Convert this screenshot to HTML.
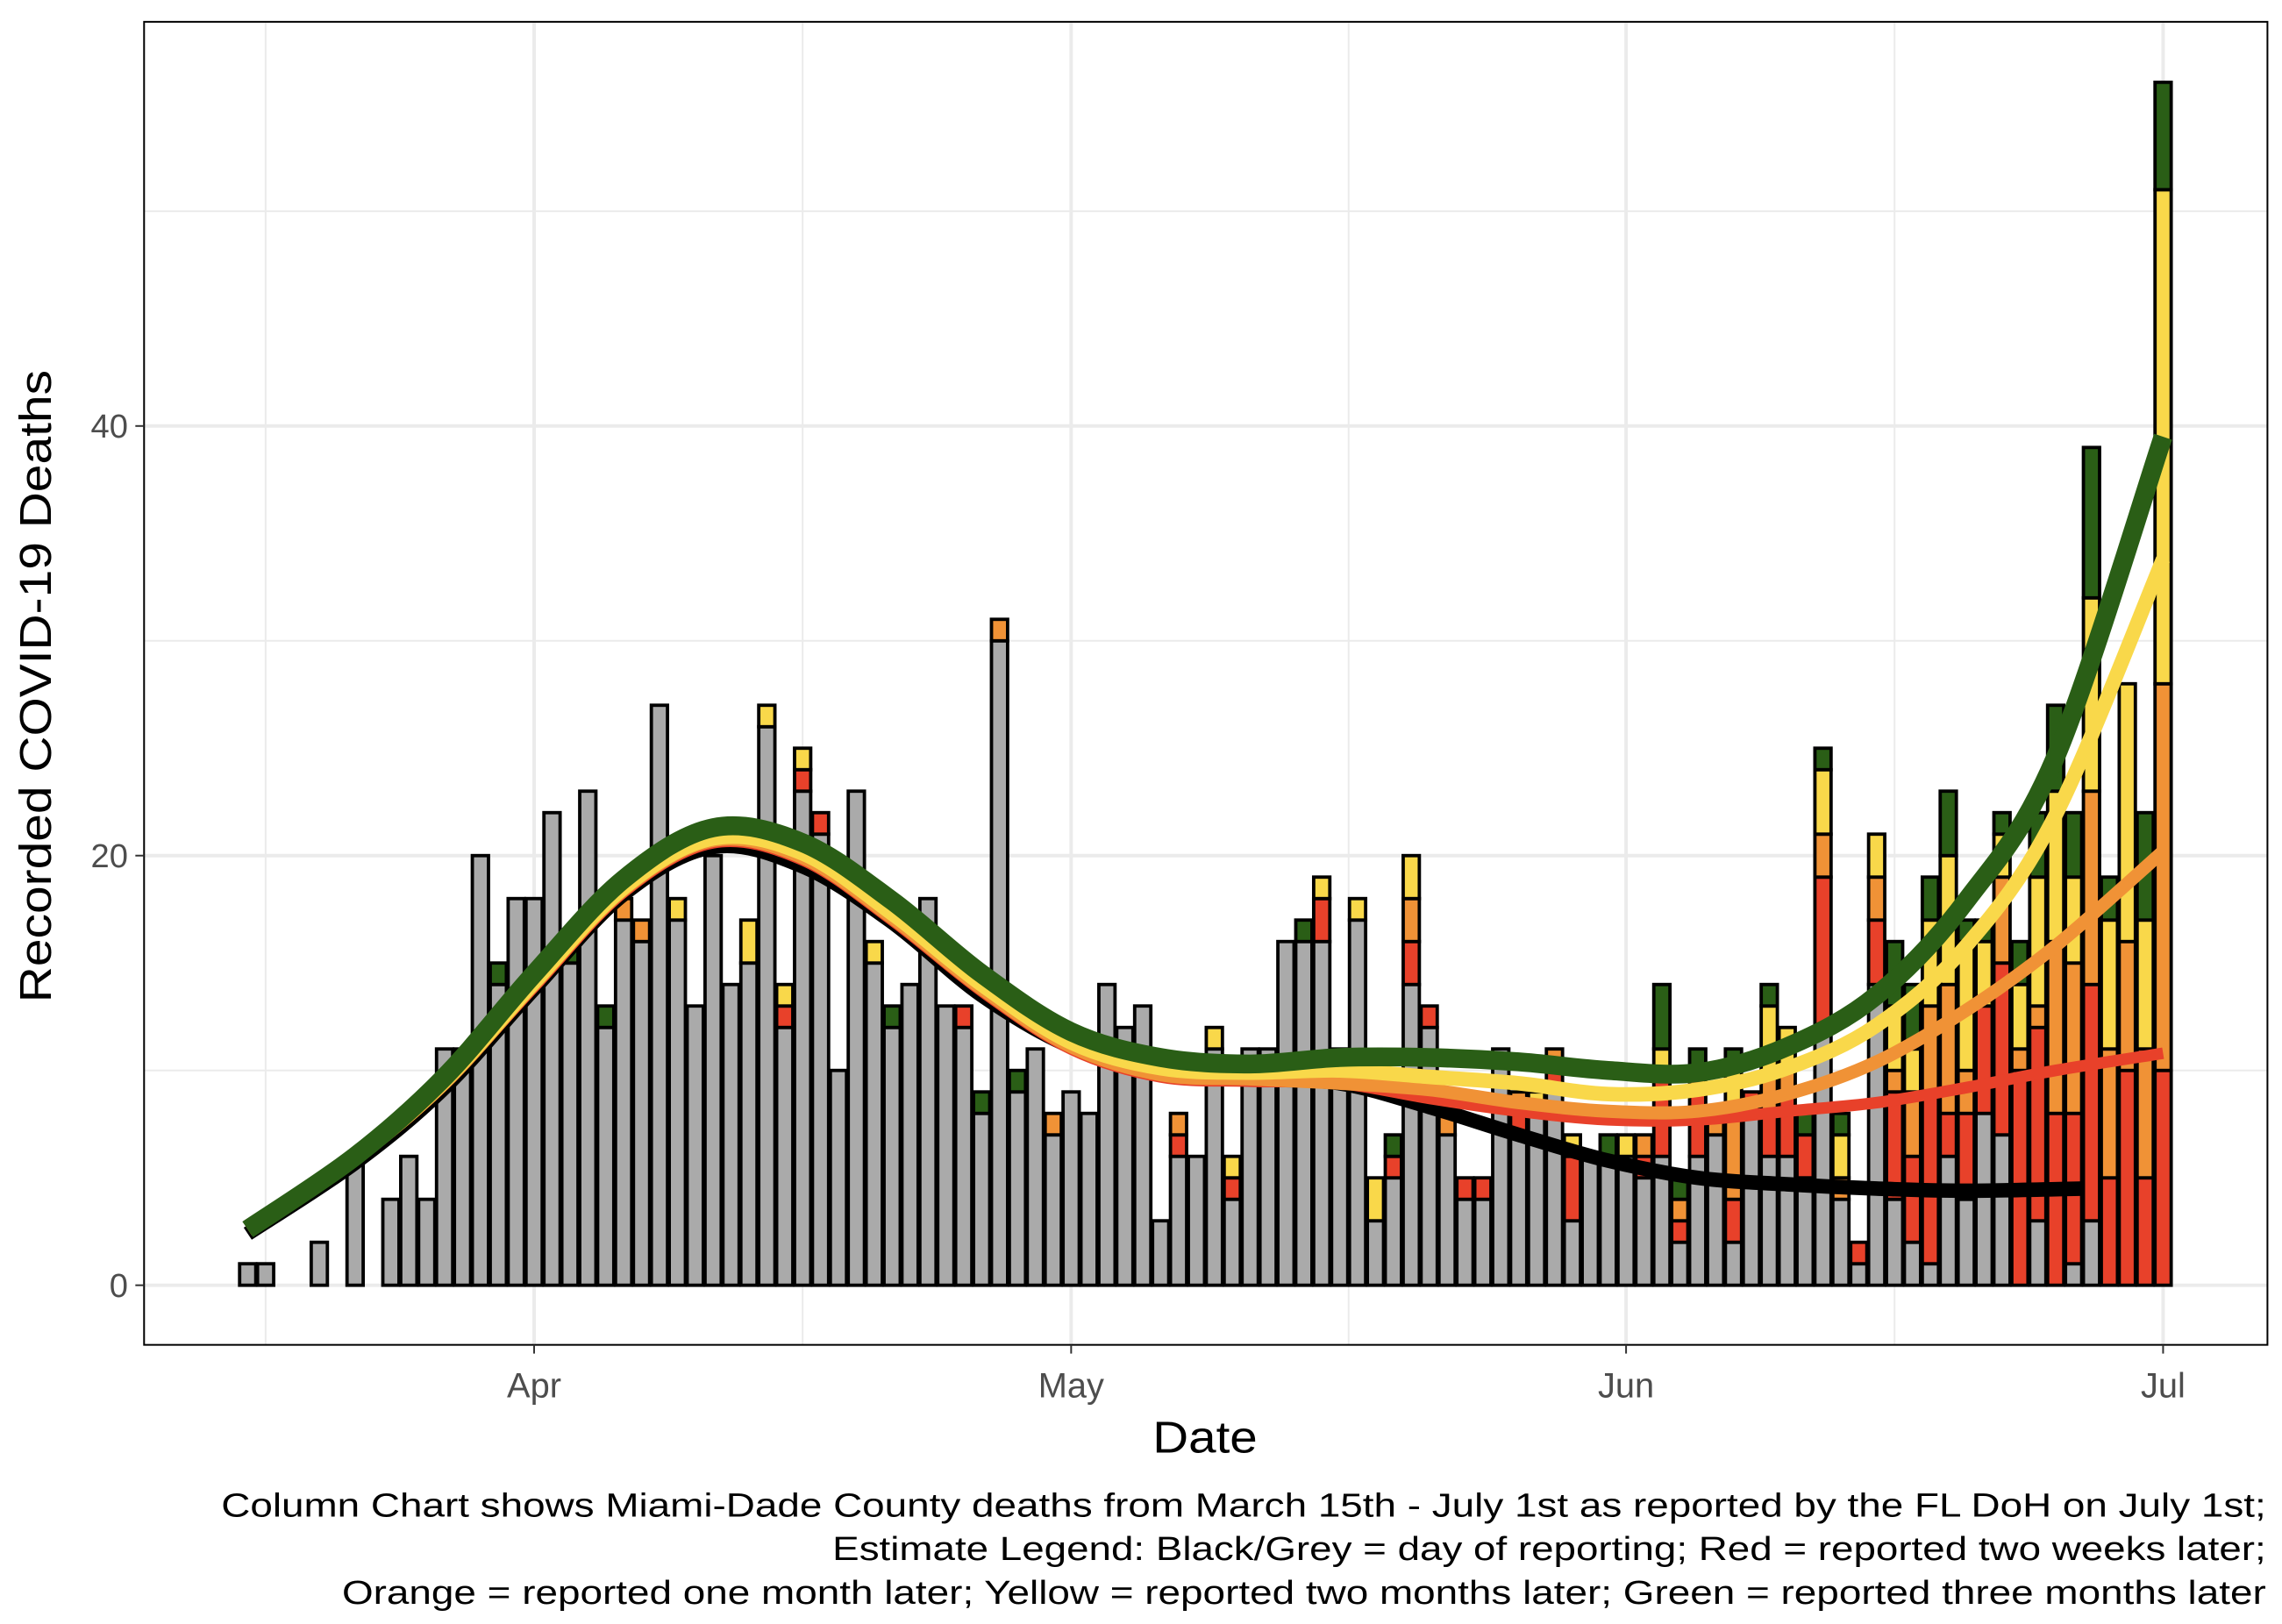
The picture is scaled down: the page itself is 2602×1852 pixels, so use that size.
<!DOCTYPE html>
<html><head><meta charset="utf-8">
<style>
html,body{margin:0;padding:0;background:#fff;}
svg{display:block;}
text{font-family:"Liberation Sans",Arial,sans-serif;}
</style></head>
<body>
<svg id="chart" width="2602" height="1852" viewBox="0 0 1568 1117" preserveAspectRatio="none" xmlns="http://www.w3.org/2000/svg">
  <rect x="0" y="0" width="1568" height="1117" fill="#fff"/>
  <g id="grid"></g>
  <g id="bars"></g>
  <g id="lines"></g>
  <rect x="99" y="15" width="1459" height="910" fill="none" stroke="#000" stroke-width="1.2"/>
  <g id="axes"></g>
  <text x="828" y="999" font-size="31" text-anchor="middle" textLength="72" lengthAdjust="spacingAndGlyphs" fill="#000">Date</text>
  <text transform="translate(35,472) rotate(-90)" font-size="31" text-anchor="middle" textLength="435" lengthAdjust="spacingAndGlyphs" fill="#000">Recorded COVID-19 Deaths</text>
  <g font-size="23" fill="#000">
    <text x="152" y="1043" textLength="1405" lengthAdjust="spacingAndGlyphs">Column Chart shows Miami-Dade County deaths from March 15th - July 1st as reported by the FL DoH on July 1st;</text>
    <text x="572" y="1073" textLength="985" lengthAdjust="spacingAndGlyphs">Estimate Legend: Black/Grey = day of reporting; Red = reported two weeks later;</text>
    <text x="235" y="1103" textLength="1322" lengthAdjust="spacingAndGlyphs">Orange = reported one month later; Yellow = reported two months later; Green = reported three months later</text>
  </g>
</svg>
<script>
// day offsets from April 1 (first bar = March 16)
const startDay = -16;
const gray   = [1,1,0,0,2,0,6,0,4,6,4,11,11,20,14,18,18,22,15,23,12,17,16,27,17,13,20,14,15,26,12,23,21,10,23,15,12,14,18,13,12,8,30,9,11,7,9,8,14,12,13,3,6,6,11,4,11,11,16,16,16,11,17,3,5,14,12,7,4,4,11,7,8,9,3,6,6,6,5,6,2,6,7,2,8,6,6,5,12,4,1,14,4,2,1,6,4,8,7,0,3,0,1,3,0,0,0,0];
const red    = [0,0,0,0,0,0,0,0,0,0,0,0,0,0,0,0,0,0,0,0,0,0,0,0,0,0,0,0,0,0,1,1,1,0,0,0,0,0,0,0,1,0,0,0,0,0,0,0,0,0,0,0,1,0,0,1,0,0,0,0,2,0,0,0,1,2,1,0,1,1,0,1,0,1,3,0,0,0,1,4,1,3,0,2,1,2,3,2,7,0,1,3,5,4,8,2,4,5,8,10,9,8,7,11,5,10,5,10];
const orange = [0,0,0,0,0,0,0,0,0,0,0,0,0,0,0,0,0,0,0,0,0,1,1,0,0,0,0,0,0,0,0,0,0,0,0,0,0,0,0,0,0,0,1,0,0,1,0,0,0,0,0,0,1,0,0,0,0,0,0,0,0,0,0,0,0,2,0,1,0,0,0,1,0,1,0,0,0,0,1,0,1,1,1,4,0,2,1,0,2,1,0,2,1,3,4,6,2,0,4,1,1,8,7,9,6,6,6,18];
const yellow = [0,0,0,0,0,0,0,0,0,0,0,0,0,0,0,0,0,0,0,0,0,0,0,0,1,0,0,0,2,1,1,1,0,0,0,1,0,0,0,0,0,0,0,0,0,0,0,0,0,0,0,0,0,0,1,1,0,0,0,0,1,0,1,2,0,2,0,0,0,0,0,0,1,0,1,0,0,1,0,1,0,0,0,2,0,3,2,0,3,2,0,2,3,2,4,6,6,3,2,3,6,7,4,9,6,12,6,23];
const green  = [0,0,0,0,0,0,0,0,0,0,0,0,0,0,1,0,0,0,1,0,1,0,0,0,0,0,0,0,0,0,0,0,0,0,0,0,1,0,0,0,0,1,0,1,0,0,0,0,0,0,0,0,0,0,0,0,0,0,0,1,0,0,0,0,1,0,0,0,0,0,0,0,0,0,0,0,1,0,0,3,1,1,0,1,0,1,0,1,1,1,0,0,3,3,2,3,1,1,1,2,3,4,3,7,2,0,5,5];

// smoothed estimate lines (knot days and values)
const knotDays = [-16,-10,-5,0,5,10,15,20,25,30,35,40,45,50,55,60,65,70,75,80,85,91];
const greenLine  = [2.6,6.0,9.7,14.5,18.9,21.3,20.6,17.9,14.5,11.8,10.6,10.3,10.6,10.6,10.4,10.0,9.9,11.1,13.5,17.9,24.6,39.5];
const yellowLine = [2.6,5.9,9.5,14.1,18.5,20.8,20.1,17.3,14.0,11.3,10.1,9.9,10.0,9.7,9.4,8.9,9.1,10.1,12.1,15.8,21.9,33.8];
const orangeLine = [2.7,5.9,9.4,14.0,18.4,20.7,19.9,17.1,13.8,11.1,9.8,9.6,9.4,9.1,8.5,8.1,8.1,8.9,10.4,12.8,15.8,20.2];
const redLine    = [2.8,5.9,9.4,13.9,18.3,20.6,19.8,17.0,13.7,11.0,9.7,9.5,9.4,8.7,8.1,7.7,7.7,8.1,8.5,9.2,10.0,10.8];
const blackDays  = [-16,-10,-5,0,5,10,15,20,25,30,35,40,45,50,55,60,65,70,75,80,86.5];
const blackLine  = [2.4,5.7,9.2,13.8,18.2,20.4,19.5,16.9,13.5,11.1,10.0,9.6,9.4,8.3,7.0,5.8,5.0,4.7,4.5,4.4,4.5];

const yTicks = [0,20,40];
const yMinor = [10,30,50];
const xTickDays = [0,30,61,91];
const xTickLabels = ["Apr","May","Jun","Jul"];
const xMinorDays = [-15,15,45.5,76];

const NS = "http://www.w3.org/2000/svg";
function X(d){ return 367 + d*12.3; }
function Y(v){ return 884 - v*14.775; }
function mk(tag, attrs, parent){
  const e = document.createElementNS(NS, tag);
  for (const k in attrs) e.setAttribute(k, attrs[k]);
  parent.appendChild(e);
  return e;
}
const grid = document.getElementById('grid');
yMinor.forEach(v=>{
  const l = mk('line',{x1:99,x2:1558,y1:Y(v),y2:Y(v),stroke:'#ebebeb','stroke-width':1.2},grid);
  
  
});
xMinorDays.forEach(d=>{
  const l = mk('line',{x1:X(d),x2:X(d),y1:15,y2:925,stroke:'#ebebeb','stroke-width':1.2},grid);
  
  
});
yTicks.forEach(v=>{
  const l = mk('line',{x1:99,x2:1558,y1:Y(v),y2:Y(v),stroke:'#ebebeb','stroke-width':2.4},grid);
  
  
});
xTickDays.forEach(d=>{
  const l = mk('line',{x1:X(d),x2:X(d),y1:15,y2:925,stroke:'#ebebeb','stroke-width':2.4},grid);
  
  
});

const bars = document.getElementById('bars');
const segSeries = [[gray,'#aaaaaa','gray'],[red,'#e8412a','red'],[orange,'#f09236','orange'],[yellow,'#f9d84a','yellow'],[green,'#2a5e16','green']];
const bw = 11.1;
for (let i=0;i<gray.length;i++){
  const d = startDay + i;
  let base = 0;
  segSeries.forEach(s=>{
    const v = s[0][i];
    if (!v) return;
    const r = mk('rect',{x:X(d)-bw/2,y:Y(base+v),width:bw,height:Y(base)-Y(base+v),fill:s[1],stroke:'#000','stroke-width':2.3},bars);
    
    
    base += v;
  });
}

function spline(days, vals){
  const p = days.map((d,i)=>[X(d),Y(vals[i])]);
  let s = 'M'+p[0][0]+','+p[0][1];
  for (let i=0;i<p.length-1;i++){
    const p0=p[i-1]||p[i], p1=p[i], p2=p[i+1], p3=p[i+2]||p[i+1];
    const c1=[p1[0]+(p2[0]-p0[0])/6, p1[1]+(p2[1]-p0[1])/6];
    const c2=[p2[0]-(p3[0]-p1[0])/6, p2[1]-(p3[1]-p1[1])/6];
    s += ' C'+c1[0]+','+c1[1]+' '+c2[0]+','+c2[1]+' '+p2[0]+','+p2[1];
  }
  return s;
}
const lines = document.getElementById('lines');
const lineSpecs = [
  [blackDays, blackLine, '#000000', 10, 'black-estimate-line'],
  [knotDays, redLine, '#e8412a', 8, 'red-estimate-line'],
  [knotDays, orangeLine, '#f09236', 9, 'orange-estimate-line'],
  [knotDays, yellowLine, '#f9d84a', 10, 'yellow-estimate-line'],
  [knotDays, greenLine, '#2a5e16', 13, 'green-estimate-line']
];
lineSpecs.forEach(ls=>{
  const p = mk('path',{d:spline(ls[0],ls[1]),fill:'none',stroke:ls[2],'stroke-width':ls[3],'stroke-linejoin':'round'},lines);
  
  
});

const axes = document.getElementById('axes');
yTicks.forEach(v=>{
  const t = mk('line',{x1:93,x2:99,y1:Y(v),y2:Y(v),stroke:'#333','stroke-width':1.2},axes);
  
  
  const tx = mk('text',{x:88,y:Y(v)+8,'font-size':23,'text-anchor':'end',fill:'#4d4d4d'},axes);
  tx.textContent = String(v);
  
  
});
xTickDays.forEach((d,i)=>{
  const t = mk('line',{x1:X(d),x2:X(d),y1:925,y2:931,stroke:'#333','stroke-width':1.2},axes);
  
  
  const tx = mk('text',{x:X(d),y:961,'font-size':24,'text-anchor':'middle',fill:'#4d4d4d'},axes);
  tx.textContent = xTickLabels[i];
  
  
});
</script>
</body></html>
